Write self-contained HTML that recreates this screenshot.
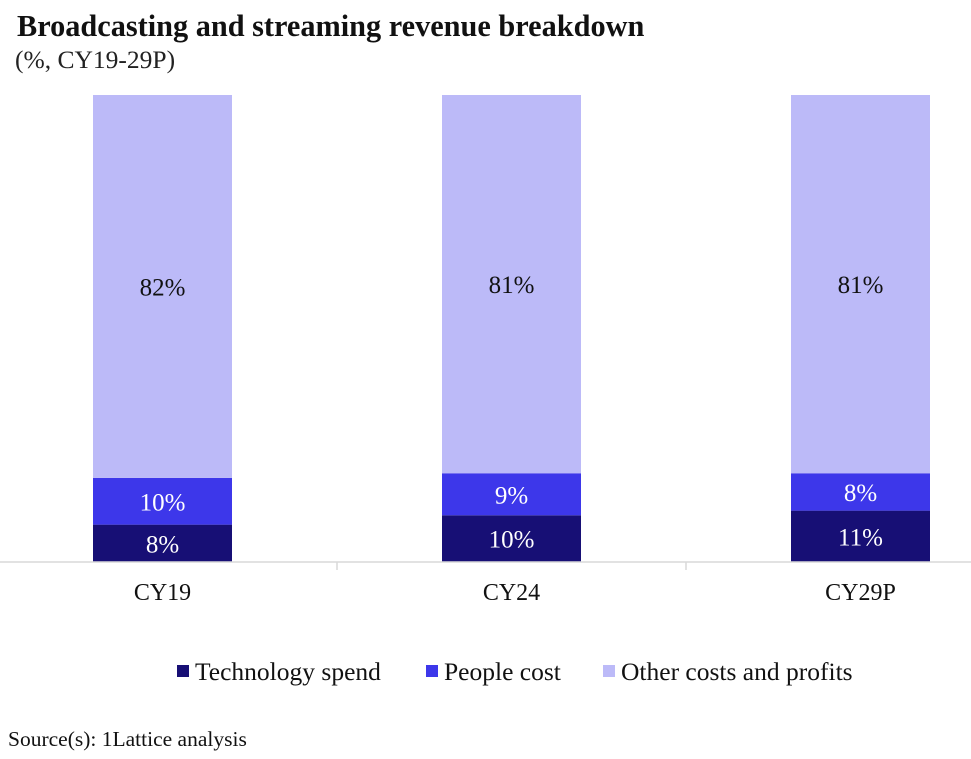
<!DOCTYPE html>
<html><head><meta charset="utf-8"><style>
body{margin:0;background:#fff;font-family:"Liberation Serif",serif;}
svg{display:block}
</style></head><body>
<svg id="c" width="971" height="759">
<text x="17" y="36" font-size="30.3" font-weight="bold" fill="#111">Broadcasting and streaming revenue breakdown</text>
<text x="15" y="68" font-size="25.5" fill="#222">(%, CY19-29P)</text>
<g id="bars"></g>
<line x1="0" y1="562" x2="971" y2="562" stroke="#d9d9d9" stroke-width="1.5"/>
<g id="xt"></g>
<g id="legend"></g>
<text x="8" y="746" font-size="21.5" fill="#111">Source(s): 1Lattice analysis</text>
</svg>
<script>
const categories=["CY19","CY24","CY29P"];
const techSpend=[8,10,11];
const peopleCost=[10,9,8];
const otherCosts=[82,81,81];
const seriesNames=["Technology spend","People cost","Other costs and profits"];
const colors=["#170f75","#3d37ea","#bcbaf8"];
const ns="http://www.w3.org/2000/svg";
const base=562, top0=95, plotH=base-top0;
const slotW=349, barW=139, x0=93;
function yScale(v){return v/100*plotH;}
function xPos(i){return x0+i*slotW;}
const bars=document.getElementById('bars');
const series=[techSpend,peopleCost,otherCosts];
categories.forEach((c,i)=>{
  let y=base;
  const tot=series.reduce((a,s)=>a+s[i],0);
  series.forEach((s,k)=>{
    const h=yScale(s[i]/tot*100);
    const r=document.createElementNS(ns,'rect');
    r.setAttribute('x',xPos(i));r.setAttribute('y',y-h);r.setAttribute('width',barW);r.setAttribute('height',h);r.setAttribute('fill',colors[k]);
    
    
    bars.appendChild(r);
    const t=document.createElementNS(ns,'text');
    t.setAttribute('x',xPos(i)+barW/2);
    t.setAttribute('y',y-h/2+9);
    t.setAttribute('text-anchor','middle');t.setAttribute('font-size','25');
    t.setAttribute('fill',k==2?'#111':'#fff');
    t.textContent=s[i]+'%';
    
    
    bars.appendChild(t);
    y-=h;
  });
});
const xt=document.getElementById('xt');
categories.forEach((c,i)=>{
  const t=document.createElementNS(ns,'text');
  t.setAttribute('x',xPos(i)+barW/2);t.setAttribute('y',600);t.setAttribute('text-anchor','middle');t.setAttribute('font-size','24');t.setAttribute('fill','#111');
  t.textContent=c;
  
  
  xt.appendChild(t);
  if(i>0){
    const l=document.createElementNS(ns,'line');
    const tx=xPos(i)-(slotW-barW)/2;
    l.setAttribute('x1',tx);l.setAttribute('x2',tx);l.setAttribute('y1',562);l.setAttribute('y2',570);l.setAttribute('stroke','#d9d9d9');l.setAttribute('stroke-width','1.5');
    
    
    xt.appendChild(l);
  }
});
const lg=document.getElementById('legend');
const lx=[177,426,603];
seriesNames.forEach((n,k)=>{
  const r=document.createElementNS(ns,'rect');
  r.setAttribute('x',lx[k]);r.setAttribute('y',665);r.setAttribute('width',12);r.setAttribute('height',12);r.setAttribute('fill',colors[k]);
  
  
  lg.appendChild(r);
  const t=document.createElementNS(ns,'text');
  t.setAttribute('x',lx[k]+18);t.setAttribute('y',680);t.setAttribute('font-size','25.5');t.setAttribute('fill','#111');
  t.textContent=n;
  
  
  lg.appendChild(t);
});
</script>
</body></html>
